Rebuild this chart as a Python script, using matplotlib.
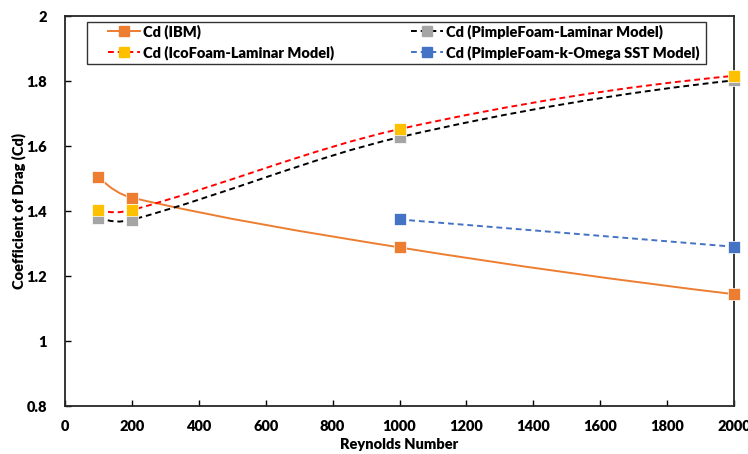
import numpy as np
import matplotlib
matplotlib.use("Agg")
import matplotlib.pyplot as plt
from matplotlib.path import Path
from matplotlib.lines import Line2D
from matplotlib.patches import PathPatch, Rectangle

plt.rcParams['font.family'] = ['Lato', 'DejaVu Sans']
plt.rcParams['font.weight'] = 'heavy'

re_ibm = [100, 200, 1000, 2000]
cd_ibm = [1.505, 1.441, 1.288, 1.144]
re_ico = [100, 200, 1000, 2000]
cd_ico = [1.403, 1.403, 1.652, 1.816]
re_pim = [100, 200, 1000, 2000]
cd_pim = [1.380, 1.373, 1.627, 1.802]
re_kom = [1000, 2000]
cd_kom = [1.374, 1.290]

x_ticks = [0, 200, 400, 600, 800, 1000, 1200, 1400, 1600, 1800, 2000]
y_ticks = [0.8, 1.0, 1.2, 1.4, 1.6, 1.8, 2.0]
y_ticklabels = ['0.8', '1', '1.2', '1.4', '1.6', '1.8', '2']


def smooth_path(x, y):
    """Cubic Bezier path through the points (Hermite with Catmull-Rom slopes)."""
    x = np.asarray(x, float)
    y = np.asarray(y, float)
    n = len(x)
    if n < 3:
        return Path(np.column_stack([x, y]))
    d = np.zeros(n)
    for i in range(1, n - 1):
        d[i] = (y[i + 1] - y[i - 1]) / (x[i + 1] - x[i - 1])
    s0 = (y[1] - y[0]) / (x[1] - x[0])
    sn = (y[-1] - y[-2]) / (x[-1] - x[-2])
    d[0] = 2 * s0 - d[1]
    d[-1] = 2 * sn - d[-2]
    verts = [(x[0], y[0])]
    codes = [Path.MOVETO]
    for i in range(n - 1):
        h = x[i + 1] - x[i]
        verts += [(x[i] + h / 3, y[i] + d[i] * h / 3),
                  (x[i + 1] - h / 3, y[i + 1] - d[i + 1] * h / 3),
                  (x[i + 1], y[i + 1])]
        codes += [Path.CURVE4] * 3
    return Path(verts, codes)


W, H = 748, 454
fig = plt.figure(figsize=(W / 100, H / 100), dpi=100)
L, R, T, B = 65, 734, 16, 406
ax = fig.add_axes([L / W, (H - B) / H, (R - L) / W, (B - T) / H])

series = [
    (re_ibm, cd_ibm, '#ED7D31', '#ED7D31', '-', 'Cd (IBM)'),
    (re_pim, cd_pim, 'black', '#A5A5A5', (0, (3, 2)), 'Cd (PimpleFoam-Laminar Model)'),
    (re_ico, cd_ico, '#FF0000', '#FFC000', (0, (3, 2)), 'Cd (IcoFoam-Laminar Model)'),
    (re_kom, cd_kom, '#4472C4', '#4472C4', (0, (3, 2)), 'Cd (PimpleFoam-k-Omega SST Model)'),
]

handles = {}
for xs, ys, lc, mc, ls, lab in series:
    p = PathPatch(smooth_path(xs, ys), facecolor='none', edgecolor=lc,
                  linestyle=ls, linewidth=1.4, zorder=2)
    ax.add_patch(p)
    ax.plot(xs, ys, linestyle='none', marker='s', markersize=8.5,
            markerfacecolor=mc, markeredgecolor='white',
            markeredgewidth=0.5, zorder=3, clip_on=False)
    handles[lab] = Line2D([], [], color=lc, linestyle=ls, linewidth=1.4,
                          marker='s', markersize=7, markerfacecolor=mc,
                          markeredgecolor=mc)

ax.set_xlim(0, 2000)
ax.set_ylim(0.8, 2.0)
ax.set_xticks(x_ticks)
ax.set_xticklabels([str(t) for t in x_ticks], fontsize=10.5, fontweight='heavy')
ax.set_yticks(y_ticks)
ax.set_yticklabels(y_ticklabels, fontsize=10.5, fontweight='heavy')
ax.tick_params(direction='in', length=4, width=1)
ax.tick_params(axis='x', pad=10)
ax.tick_params(axis='y', pad=13)
for sp in ax.spines.values():
    sp.set_linewidth(1.3)
    sp.set_color('#262626')

ax.set_xlabel('Reynolds Number', fontsize=10.5, fontweight='heavy', labelpad=4)
ax.set_ylabel('Coefficient of Drag (Cd)', fontsize=10.5, fontweight='heavy', labelpad=0)

# legend frame
lx0, lx1, ly0, ly1 = 87, 706, 22, 64
ax.add_patch(Rectangle(((lx0 - L) / (R - L), 1 - (ly1 - T) / (B - T)),
                       (lx1 - lx0) / (R - L), (ly1 - ly0) / (B - T),
                       transform=ax.transAxes, facecolor='white',
                       edgecolor='#333333', linewidth=1.0, zorder=4))

order = ['Cd (IBM)', 'Cd (IcoFoam-Laminar Model)',
         'Cd (PimpleFoam-Laminar Model)', 'Cd (PimpleFoam-k-Omega SST Model)']
bx0, bx1, by0, by1 = 108, 699, 24, 62
leg = ax.legend([handles[k] for k in order], order, ncol=2,
                loc='upper left',
                bbox_to_anchor=((bx0 - L) / (R - L), 1 - (by1 - T) / (B - T),
                                (bx1 - bx0) / (R - L), (by1 - by0) / (B - T)),
                mode='expand', frameon=False, handlelength=2.2,
                handletextpad=0.2, borderpad=0.0, borderaxespad=0.0,
                labelspacing=0.45, prop={'family': ['Lato', 'DejaVu Sans'],
                                         'weight': 'heavy', 'size': 10.5})
leg.set_zorder(5)

fig.savefig('out.png', dpi=100)
